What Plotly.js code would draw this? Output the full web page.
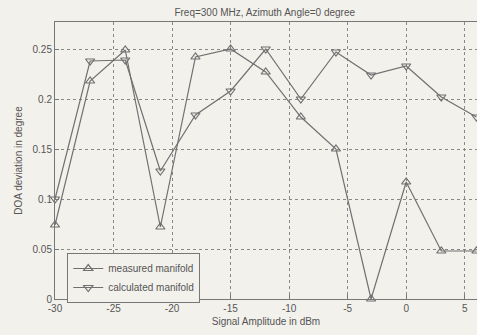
<!DOCTYPE html>
<html><head><meta charset="utf-8">
<script src="https://cdn.plot.ly/plotly-3.0.1.min.js"></script>
<style>html,body{margin:0;padding:0;background:#f3f1ec;}#chart{width:477px;height:335px;}</style>
</head><body><div id="chart"></div>
<script>
const amplitude = [-30, -27, -24, -21, -18, -15, -12, -9, -6, -3, 0, 3, 6];
const measured = [0.074, 0.218, 0.249, 0.072, 0.242, 0.250, 0.227, 0.182, 0.150, 0.000, 0.117, 0.048, 0.048];
const calculated = [0.100, 0.238, 0.239, 0.128, 0.184, 0.208, 0.250, 0.200, 0.247, 0.224, 0.233, 0.202, 0.182];
const xTicks = [-30, -25, -20, -15, -10, -5, 0, 5];
const yTicks = [0, 0.05, 0.1, 0.15, 0.2, 0.25];
const lineCol = '#707070';
const txtCol = '#555555';
const traces = [
  {x: amplitude, y: measured, name: 'measured manifold', mode: 'lines+markers', cliponaxis: false,
   line: {color: lineCol, width: 1.2}, marker: {symbol: 'triangle-up-open', size: 8, color: lineCol, line: {width: 1.2}}},
  {x: amplitude, y: calculated, name: 'calculated manifold', mode: 'lines+markers', cliponaxis: false,
   line: {color: lineCol, width: 1.2}, marker: {symbol: 'triangle-down-open', size: 8, color: lineCol, line: {width: 1.2}}}
];
const layout = {
  width: 477, height: 335,
  margin: {l: 55, r: 0, t: 22, b: 36},
  paper_bgcolor: '#f3f1ec', plot_bgcolor: '#f3f1ec',
  font: {family: 'Liberation Sans, Arial, sans-serif', size: 10, color: txtCol},
  title: {text: 'Freq=300 MHz, Azimuth Angle=0 degree', x: 0.555, xanchor: 'center', y: 0.962, yanchor: 'middle', font: {size: 10, color: txtCol}},
  xaxis: {range: [-30, 6.05], tickvals: xTicks, ticktext: xTicks.map(String), showgrid: true, gridcolor: '#888', griddash: 'dot', griddash: '3px,3px',
    zeroline: false, showline: true, linecolor: '#777', linewidth: 1, mirror: true, ticks: 'inside', ticklen: 4, tickcolor: '#777',
    title: {text: 'Signal Amplitude in dBm', standoff: 4, font: {size: 10, color: txtCol}}},
  yaxis: {range: [0, 0.277], tickvals: yTicks, ticktext: ['0', '0.05', '0.1', '0.15', '0.2', '0.25'], showgrid: true, gridcolor: '#888', griddash: '3px,3px',
    zeroline: false, showline: true, linecolor: '#777', linewidth: 1, mirror: true, ticks: 'inside', ticklen: 4, tickcolor: '#777',
    title: {text: 'DOA deviation in degree', standoff: 8, font: {size: 10, color: txtCol}}},
  showlegend: true,
  legend: {x: 0.029, y: 0.166, xanchor: 'left', yanchor: 'top', bgcolor: '#f3f1ec', bordercolor: '#777', borderwidth: 1,
    font: {size: 10, color: txtCol}, tracegroupgap: 0, itemwidth: 30}
};
Plotly.newPlot('chart', traces, layout, {displayModeBar: false, staticPlot: true});
</script></body></html>
